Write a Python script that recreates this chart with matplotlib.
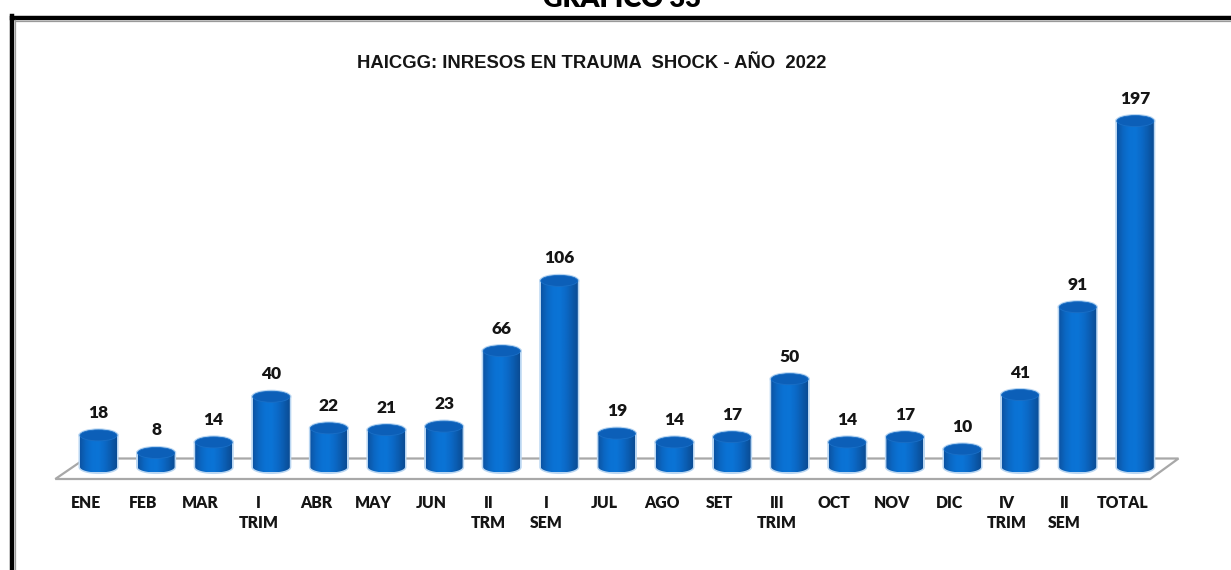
import numpy as np
import matplotlib
matplotlib.use("Agg")
import matplotlib.pyplot as plt
from matplotlib.patches import Ellipse, Polygon
from matplotlib.colors import LinearSegmentedColormap
from matplotlib.lines import Line2D

categories = ["ENE", "FEB", "MAR", "I\nTRIM", "ABR", "MAY", "JUN", "II\nTRM", "I\nSEM",
              "JUL", "AGO", "SET", "III\nTRIM", "OCT", "NOV", "DIC", "IV\nTRIM", "II\nSEM", "TOTAL"]
values = [18, 8, 14, 40, 22, 21, 23, 66, 106, 19, 14, 17, 50, 14, 17, 10, 41, 91, 197]
title = "HAICGG: INRESOS EN TRAUMA  SHOCK - AÑO  2022"
header = "GRÁFICO 33"

W, H = 1231, 570
fig = plt.figure(figsize=(W / 100, H / 100), dpi=100)
fig.patch.set_facecolor("white")

# pixel layout
x0_px, dx_px = 98.5, 57.6
y0_px, ky = 467.0, 1.756
ax = fig.add_axes([0, 0, 1, 1])
ax.axis("off")

bw = 37 / dx_px          # bar width in data units
eh = 11 / ky             # ellipse height in data units
n = len(values)

# floor
fb, ff = 8.5 / ky, -12 / ky
floor = Polygon([(-0.23, fb), (n - 0.25, fb), (n - 0.74, ff), (-0.75, ff)],
                closed=True, facecolor="white", edgecolor="#a8a8a8", lw=1.6, zorder=1)
ax.add_patch(floor)

cmap = LinearSegmentedColormap.from_list(
    "cyl", ["#0b54a4", "#0b68c4", "#0a72d4", "#0b74d6", "#0b6ac8", "#0b5cb0", "#0a4c94"])
grad = np.linspace(0, 1, 64).reshape(1, -1)

for i, v in enumerate(values):
    xl, xr = i - bw / 2, i + bw / 2
    t = np.linspace(np.pi, 2 * np.pi, 40)
    arc = np.column_stack([i + bw / 2 * np.cos(t), eh / 2 * np.sin(t)])
    pts = np.vstack([[(xl, v)], arc, [(xr, v)]])
    glow = Polygon(pts, closed=True, facecolor="none", edgecolor="#b9d6f2", lw=2.2, zorder=2)
    ax.add_patch(glow)
    body = Polygon(pts, closed=True, facecolor="none", edgecolor="none")
    ax.add_patch(body)
    im = ax.imshow(grad, cmap=cmap, extent=[xl, xr, -eh / 2, v], aspect="auto",
                   interpolation="bilinear", zorder=3)
    im.set_clip_path(body)
    ax.add_patch(Ellipse((i, v), bw, eh, facecolor="none", edgecolor="#b9d6f2", lw=2.2, zorder=2))
    top = Ellipse((i, v), bw, eh, facecolor="#0c5fb8", edgecolor="#1a6fc6", lw=0.6, zorder=4)
    ax.add_patch(top)
    ax.annotate(str(v), (i, v), xytext=(0, (eh / 2 * ky + 12) * 0.72), textcoords="offset points",
                ha="center", va="baseline", fontsize=12.5, fontweight="heavy",
                family="Lato", color="#151515", zorder=5)
    ax.annotate(categories[i], (i, 0), xytext=(-13 * 0.72, -28 * 0.72), textcoords="offset points",
                ha="center", va="top", fontsize=11.3, fontweight="heavy", family="Lato",
                color="#151515", linespacing=1.3, zorder=5)

ax.set_xlim(-x0_px / dx_px, (W - x0_px) / dx_px)
ax.set_ylim(-(H - y0_px) / ky, y0_px / ky)

fig.text(592 / W, 1 - 64 / H, title, ha="center", va="center", fontsize=13.3,
         fontweight="bold", family=["Liberation Sans Narrow", "Liberation Sans"], color="#151515")
fig.text(622 / W, 1 - 7 / H, header, ha="center", va="baseline", fontsize=19.5,
         fontweight="heavy", family="Lato", color="black")

# frame
fig.add_artist(Line2D([12 / W, 1], [1 - 17.5 / H] * 2, color="black", lw=3.2))
fig.add_artist(Line2D([12 / W] * 2, [1 - 16 / H, 0], color="black", lw=3.2))
fig.add_artist(Line2D([15 / W, 1], [1 - 20.5 / H] * 2, color="#9a9a9a", lw=0.9))
fig.add_artist(Line2D([15 / W] * 2, [1 - 20 / H, 0], color="#9a9a9a", lw=0.9))

fig.savefig("out.png", dpi=100)
